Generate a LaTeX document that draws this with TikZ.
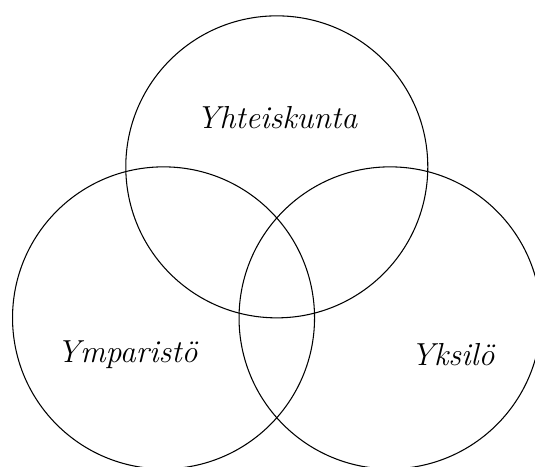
\documentclass[tikz,border=0pt]{standalone}
\begin{document}
\begin{tikzpicture}[venn/.style={draw, thin}, lab/.style={font=\large\itshape, inner sep=0pt}]
\useasboundingbox (-2.166,-1.97) rectangle (4.92,4.21);
\draw[venn] (0,0) circle (2);
\draw[venn] (3,0) circle (2);
\draw[venn] (1.5,2) circle (2);
\node[lab] (s) at (1.5,2.65) {Yhteiskunta};
\node[lab] (y) at (-0.48,-0.49) {Ymparist\"o};
\node[lab] (k) at (3.83,-0.49) {Yksil\"o};
\end{tikzpicture}
\end{document}
